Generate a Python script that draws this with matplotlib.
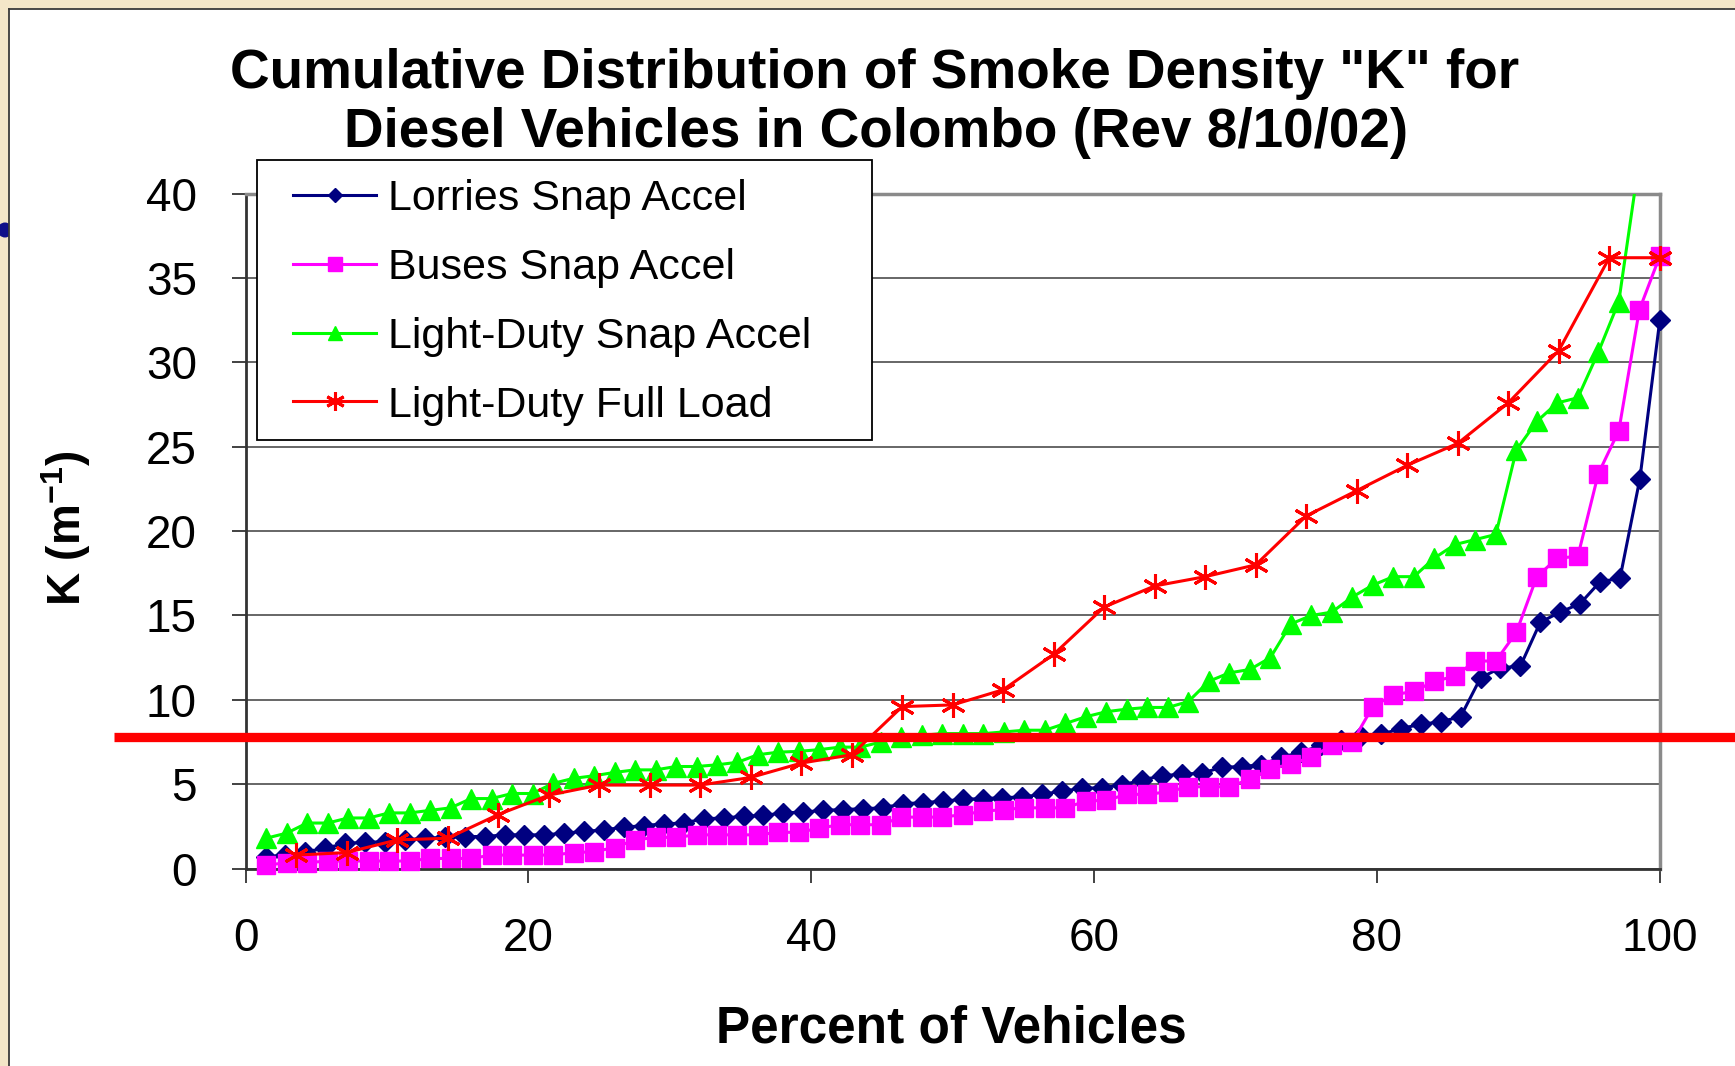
import matplotlib
matplotlib.use('Agg')
import matplotlib.pyplot as plt
import matplotlib.transforms as mtransforms
from matplotlib.patches import Rectangle, Ellipse
from matplotlib.lines import Line2D
import numpy as np

plt.rcParams['font.family'] = ['Liberation Sans', 'DejaVu Sans']
plt.rcParams['mathtext.fontset'] = 'custom'
plt.rcParams['mathtext.rm'] = 'Liberation Sans:bold'
plt.rcParams['mathtext.bf'] = 'Liberation Sans:bold'
plt.rcParams['mathtext.it'] = 'Liberation Sans:bold'
plt.rcParams['mathtext.default'] = 'rm'

# ---------------- data ----------------
title_lines = ['Cumulative Distribution of Smoke Density "K" for',
               'Diesel Vehicles in Colombo (Rev 8/10/02)']
series_names = ['Lorries Snap Accel', 'Buses Snap Accel',
                'Light-Duty Snap Accel', 'Light-Duty Full Load']

lorries_k = [0.7, 0.8, 1.0, 1.2, 1.5, 1.55, 1.6, 1.7, 1.8, 1.85, 1.9, 1.9,
             2.0, 2.0, 2.0, 2.1, 2.2, 2.3, 2.45, 2.55, 2.65, 2.7, 2.95, 3.0,
             3.1, 3.15, 3.3, 3.35, 3.45, 3.5, 3.55, 3.6, 3.85, 3.9, 4.0, 4.1,
             4.15, 4.2, 4.25, 4.4, 4.6, 4.75, 4.8, 4.95, 5.25, 5.5, 5.6, 5.65,
             6.0, 6.05, 6.15, 6.6, 6.9, 7.3, 7.6, 7.85, 7.95, 8.3, 8.55, 8.7,
             9.0, 11.3, 11.9, 12.0, 14.6, 15.2, 15.7, 17.0, 17.2, 23.1, 32.5]

buses_k = [0.2, 0.35, 0.35, 0.45, 0.45, 0.45, 0.45, 0.45, 0.6, 0.6, 0.6, 0.8,
           0.8, 0.8, 0.8, 0.95, 1.0, 1.25, 1.7, 1.85, 1.85, 2.0, 2.0, 2.0,
           2.0, 2.15, 2.15, 2.4, 2.6, 2.6, 2.6, 3.05, 3.05, 3.05, 3.2, 3.4,
           3.5, 3.6, 3.6, 3.6, 4.0, 4.05, 4.4, 4.4, 4.55, 4.85, 4.85, 4.85,
           5.3, 5.9, 6.2, 6.6, 7.3, 7.5, 9.6, 10.3, 10.5, 11.1, 11.4, 12.3,
           12.3, 14.0, 17.3, 18.4, 18.5, 23.4, 25.95, 33.1, 36.3]

ld_snap_k = [1.8, 2.1, 2.7, 2.7, 3.0, 3.0, 3.3, 3.3, 3.45, 3.6, 4.15, 4.15,
             4.45, 4.45, 5.05, 5.35, 5.5, 5.7, 5.85, 5.85, 6.05, 6.05, 6.15,
             6.3, 6.75, 6.9, 6.95, 7.05, 7.2, 7.2, 7.5, 7.8, 7.9, 8.0, 8.0,
             8.0, 8.1, 8.2, 8.2, 8.6, 9.0, 9.3, 9.45, 9.55, 9.55, 9.9, 11.1,
             11.6, 11.8, 12.5, 14.5, 15.0, 15.2, 16.1, 16.8, 17.3, 17.3, 18.4,
             19.2, 19.5, 19.8, 24.8, 26.5, 27.6, 27.9, 30.6, 33.6, 42.0, 50.0]

ld_full_k = [0.8, 0.95, 1.7, 1.8, 3.2, 4.35, 4.95, 4.95, 4.95, 5.4, 6.25,
             6.75, 9.6, 9.7, 10.6, 12.7, 15.5, 16.75, 17.3, 18.0, 20.9, 22.4,
             23.9, 25.2, 27.6, 30.7, 36.2, 36.2]

threshold_k = 7.8
x_ticks = [0, 20, 40, 60, 80, 100]
y_ticks = [0, 5, 10, 15, 20, 25, 30, 35, 40]


def percent_rank(values):
    n = len(values)
    return np.arange(1, n + 1) * 100.0 / n


# ---------------- figure ----------------
W, H = 1735, 1066
fig = plt.figure(figsize=(W / 100, H / 100), dpi=100, facecolor='#F4E6C8')

fig.patches.append(Ellipse((5 / W, 1 - 230 / H), 15 / W, 15 / H,
                           transform=fig.transFigure, facecolor='#10108a',
                           edgecolor='none', zorder=-3))
fig.patches.append(Rectangle((9 / W, 0), 1, (H - 9) / H,
                             transform=fig.transFigure, facecolor='white',
                             edgecolor='none', zorder=-2))
fig.lines.append(Line2D([9 / W, 9 / W], [0, (H - 9) / H], transform=fig.transFigure,
                        color='#3a3a3a', lw=1.3, zorder=-1))
fig.lines.append(Line2D([9 / W, 1], [(H - 9) / H, (H - 9) / H], transform=fig.transFigure,
                        color='#3a3a3a', lw=1.3, zorder=-1))

ax = fig.add_axes([245.6 / W, 1 - 868.6 / H, (1659.8 - 245.6) / W, (868.6 - 193.6) / H])
ax.set_xlim(0, 100)
ax.set_ylim(0, 40)
ax.set_facecolor('white')
ax.set_xticks(x_ticks)
ax.set_yticks(y_ticks)
ax.yaxis.grid(True, color='#5a5a5a', lw=1.3)
ax.set_axisbelow(True)
for side in ['left', 'bottom']:
    ax.spines[side].set_color('#333333')
    ax.spines[side].set_linewidth(2)
for side in ['top', 'right']:
    ax.spines[side].set_color('#8a8a8a')
    ax.spines[side].set_linewidth(2.5)
ax.tick_params(axis='both', direction='out', length=10, width=1.3,
               color='#333333', labelsize=33)
ax.tick_params(axis='y', pad=25)
ax.tick_params(axis='x', pad=25)

styles = [
    dict(color='#000080', marker='D', ms=10, mew=1),
    dict(color='#FF00FF', marker='s', ms=13.5, mew=1),
    dict(color='#00FF00', marker='^', ms=14, mew=1),
    dict(color='#FF0000', marker=(6, 2, 0), ms=18, mew=2.2),
]
all_series = [lorries_k, buses_k, ld_snap_k, ld_full_k]

handles = []
for i, (vals, st) in enumerate(zip(all_series, styles)):
    xs = percent_rank(vals)
    ys = np.array(vals, dtype=float)
    ax.plot(xs, ys, color=st['color'], lw=2.2, zorder=3 + i)
    ym = np.where(ys <= 40, ys, np.nan)
    ax.plot(xs, ym, linestyle='none', marker=st['marker'], ms=st['ms'],
            mfc=st['color'], mec=st['color'], mew=st['mew'],
            clip_on=False, zorder=3 + i)
    handles.append(Line2D([], [], color=st['color'], lw=2.2, marker=st['marker'],
                          ms=st['ms'] * 0.75, mfc=st['color'], mec=st['color'],
                          mew=st['mew']))

# threshold line across the figure
blend = mtransforms.blended_transform_factory(fig.transFigure, ax.transData)
ax.plot([114 / W, 1.0], [threshold_k, threshold_k], transform=blend,
        color='#FF0000', lw=6.7, solid_capstyle='butt', clip_on=False, zorder=10)

# legend box (manual frame) and legend content
fig.patches.append(Rectangle((257 / W, 1 - 440 / H), 615 / W, 280 / H,
                             transform=fig.transFigure, facecolor='white',
                             edgecolor='black', lw=1.3, zorder=5))
leg = fig.legend(handles, series_names, loc='upper left',
                 bbox_to_anchor=(293 / W, 1 - 179 / H), bbox_transform=fig.transFigure,
                 frameon=False, fontsize=31, handlelength=1.93, handletextpad=0.27,
                 labelspacing=0.67, borderpad=0, borderaxespad=0, numpoints=1)
leg.set_zorder(6)

fig.text(875 / W, 1 - 74 / H, title_lines[0], ha='center', va='center',
         fontsize=39.5, weight='bold')
fig.text(876 / W, 1 - 133 / H, title_lines[1], ha='center', va='center',
         fontsize=39.5, weight='bold')
fig.text(951 / W, 1 - 1029 / H, 'Percent of Vehicles',
         ha='center', va='center', fontsize=37, weight='bold')
fig.text(66 / W, 1 - 528 / H, 'K (m$^{-1}$)', ha='center', va='center',
         rotation=90, fontsize=33, weight='bold')

fig.savefig('out.png', dpi=100, facecolor=fig.get_facecolor())
